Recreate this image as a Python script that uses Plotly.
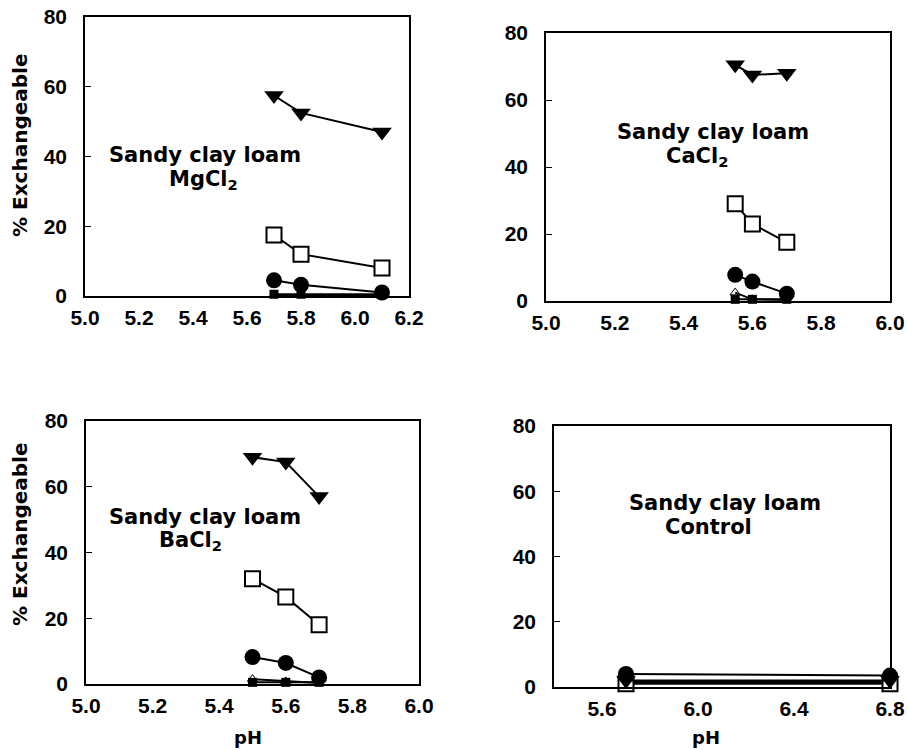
import plotly.graph_objects as go

# ---------------- data ----------------
ph_mg = [5.7, 5.8, 6.1]
mg_tri = [57.5, 52.5, 47.0]
mg_sq = [17.5, 12.0, 8.0]
mg_circ = [4.5, 3.2, 1.0]
mg_otri = [0.3, 0.3, 0.3]
mg_fsq = [0.5, 0.5, 0.5]

ph_ca = [5.55, 5.60, 5.70]
ca_tri = [70.5, 67.5, 68.0]
ca_sq = [29.0, 23.0, 17.5]
ca_circ = [7.8, 5.8, 2.2]
ca_otri = [2.5, 0.5, 0.3]
ca_fsq = [0.5, 0.5, 0.5]

ph_ba = [5.5, 5.6, 5.7]
ba_tri = [69.0, 67.5, 57.0]
ba_sq = [32.0, 26.5, 18.0]
ba_circ = [8.2, 6.4, 2.0]
ba_otri = [1.5, 0.8, 0.3]
ba_fsq = [0.5, 0.5, 0.5]

ph_ctl = [5.7, 6.8]
ctl_tri = [2.0, 2.0]
ctl_sq = [1.0, 1.0]
ctl_circ = [4.0, 3.5]
ctl_otri = [1.5, 1.5]
ctl_fsq = [1.5, 1.5]

panel_titles = ["MgCl<sub>2</sub>", "CaCl<sub>2</sub>", "BaCl<sub>2</sub>", "Control"]
y_ticks = [0, 20, 40, 60, 80]

FONT = "Liberation Sans"
FONT2 = "DejaVu Sans"

def px(v):
    return v / 908

def py(v):
    return 1 - v / 750

fig = go.Figure()

panels = [
    dict(ph=ph_mg, tri=mg_tri, sq=mg_sq, circ=mg_circ, otri=mg_otri, fsq=mg_fsq,
         xd=[px(85), px(409)], yd=[py(296), py(17)], xr=[5.0, 6.2],
         xt=[5.0, 5.2, 5.4, 5.6, 5.8, 6.0, 6.2]),
    dict(ph=ph_ca, tri=ca_tri, sq=ca_sq, circ=ca_circ, otri=ca_otri, fsq=ca_fsq,
         xd=[px(546), px(890)], yd=[py(301), py(33)], xr=[5.0, 6.0],
         xt=[5.0, 5.2, 5.4, 5.6, 5.8, 6.0]),
    dict(ph=ph_ba, tri=ba_tri, sq=ba_sq, circ=ba_circ, otri=ba_otri, fsq=ba_fsq,
         xd=[px(86), px(419)], yd=[py(684), py(421)], xr=[5.0, 6.0],
         xt=[5.0, 5.2, 5.4, 5.6, 5.8, 6.0]),
    dict(ph=ph_ctl, tri=ctl_tri, sq=ctl_sq, circ=ctl_circ, otri=ctl_otri, fsq=ctl_fsq,
         xd=[px(554), px(890)], yd=[py(687), py(426)], xr=[5.4, 6.8],
         xt=[5.6, 6.0, 6.4, 6.8]),
]

tick_font = dict(family=FONT, size=21, color="black", weight="bold")
line = dict(color="black", width=2)
for i, p in enumerate(panels, start=1):
    xa = "x" if i == 1 else f"x{i}"
    ya = "y" if i == 1 else f"y{i}"
    series = [
        (p["fsq"], dict(symbol="square", size=9, color="black")),
        (p["otri"], dict(symbol="triangle-up-open", size=9, color="black", line=dict(width=1))),
        (p["circ"], dict(symbol="circle", size=16, color="black")),
        (p["sq"], dict(symbol="square", size=15, color="white", line=dict(color="black", width=2))),
        (p["tri"], dict(symbol="triangle-down", size=17, color="black")),
    ]
    for yv, mk in series:
        fig.add_trace(go.Scatter(x=p["ph"], y=yv, mode="lines+markers", marker=mk,
                                 line=line, xaxis=xa, yaxis=ya, showlegend=False,
                                 cliponaxis=False))
    axk = "xaxis" if i == 1 else f"xaxis{i}"
    ayk = "yaxis" if i == 1 else f"yaxis{i}"
    fig.update_layout(**{
        axk: dict(domain=p["xd"], range=p["xr"], tickvals=p["xt"],
                  ticktext=[f"{v:.1f}" for v in p["xt"]], anchor=ya,
                  showline=True, mirror=True, linecolor="black", linewidth=2,
                  showgrid=False, zeroline=False, ticks="", automargin=False,
                  ticklabeloverflow="allow",
                  ticklabelstandoff=2, tickfont=tick_font),
        ayk: dict(domain=p["yd"], range=[0, 80], tickvals=y_ticks, anchor=xa,
                  showline=True, mirror=True, linecolor="black", linewidth=1.5,
                  showgrid=False, zeroline=False, ticks="inside", ticklen=6,
                  tickcolor="black", ticklabelstandoff=12, automargin=False,
                  ticklabeloverflow="allow", tickfont=tick_font),
    })

ann_font = dict(family=FONT2, size=21, color="black", weight="bold")
text_pos = [
    (205, 155, 203, 180),
    (713, 132, 697, 157),
    (205, 517, 190, 541),
    (725, 503, 708, 527),
]
for (x1, y1, x2, y2), sub in zip(text_pos, panel_titles):
    fig.add_annotation(x=px(x1), y=py(y1), xref="paper", yref="paper",
                       xanchor="center", yanchor="middle",
                       text="Sandy clay loam", showarrow=False, font=ann_font)
    fig.add_annotation(x=px(x2), y=py(y2), xref="paper", yref="paper",
                       xanchor="center", yanchor="middle",
                       text=sub, showarrow=False, font=ann_font)

for yc in [145, 534]:
    fig.add_annotation(x=px(20), y=py(yc), xref="paper", yref="paper",
                       xanchor="center", yanchor="middle",
                       text="% Exchangeable", textangle=-90, showarrow=False,
                       font=dict(family=FONT2, size=20, color="black", weight="bold"))
for xc in [248, 706]:
    fig.add_annotation(x=px(xc), y=py(737), xref="paper", yref="paper",
                       xanchor="center", yanchor="middle",
                       text="pH", showarrow=False,
                       font=dict(family=FONT2, size=18, color="black", weight="bold"))

fig.update_layout(width=908, height=750, margin=dict(l=0, r=0, t=0, b=0, autoexpand=False),
                  paper_bgcolor="white", plot_bgcolor="white")
fig.write_html("out.html", config={"displayModeBar": False},
               post_script="document.body.style.margin='0';document.body.style.overflow='hidden';")
